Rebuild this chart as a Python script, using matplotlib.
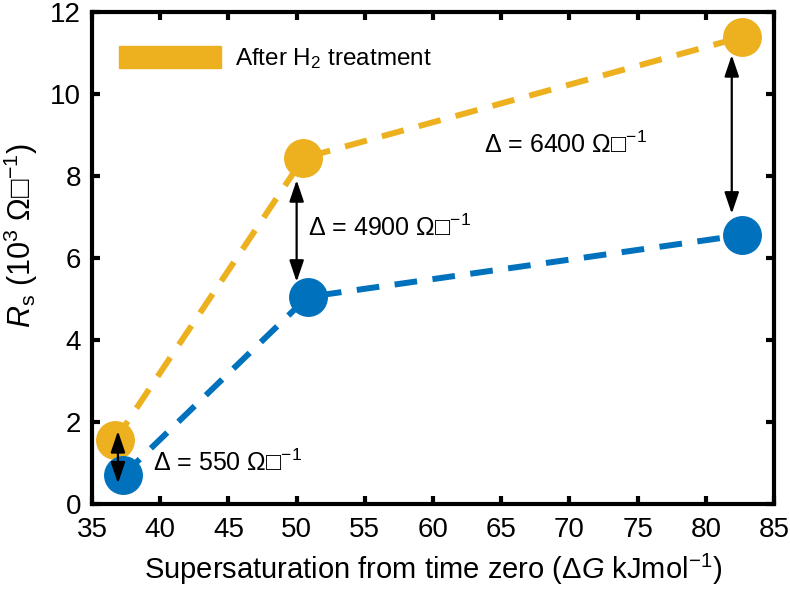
import matplotlib
matplotlib.use("Agg")
import matplotlib.pyplot as plt
from matplotlib.patches import Patch

plt.rcParams['font.family'] = ['Liberation Sans', 'DejaVu Sans']
plt.rcParams['mathtext.fontset'] = 'custom'
plt.rcParams['mathtext.rm'] = 'Liberation Sans'
plt.rcParams['mathtext.it'] = 'Liberation Sans:italic'

# Data
x_after = [36.7, 50.5, 82.65]
y_after = [1.56, 8.44, 11.39]
x_before = [37.3, 50.8, 82.65]
y_before = [0.71, 5.05, 6.56]
arrows = [(36.9, 1.78, 0.5), (50.0, 7.9, 5.42), (81.9, 10.95, 7.08)]
deltas = ["550", "4900", "6400"]
delta_pos = [(39.5, 1.0), (50.8, 6.73), (63.7, 8.76)]
xticks = [35, 40, 45, 50, 55, 60, 65, 70, 75, 80, 85]
yticks = [0, 2, 4, 6, 8, 10, 12]

yellow = '#EDB120'
blue = '#0072BD'

fig = plt.figure(figsize=(7.9, 5.89), dpi=100)
ax = fig.add_axes([0.1165, 0.1443, 0.8633, 0.8353])

ax.plot(x_after, y_after, color=yellow, lw=4.3, linestyle=(0, (3.8, 2.6)),
        marker='o', markersize=27, zorder=3)
ax.plot(x_before, y_before, color=blue, lw=4.3, linestyle=(0, (3.8, 2.6)),
        marker='o', markersize=27, zorder=3)

for (xa, y1, y2) in arrows:
    ax.annotate('', xy=(xa, y2), xytext=(xa, y1),
                arrowprops=dict(arrowstyle='<|-|>,head_length=0.65,head_width=0.22',
                                color='black', lw=1.6,
                                mutation_scale=20, shrinkA=0, shrinkB=0),
                zorder=4)

for d, (tx, ty) in zip(deltas, delta_pos):
    ax.text(tx, ty, "Δ = " + d + " Ω□$^{-1}$", fontsize=18, ha='left', va='center')

ax.set_xlim(35, 85)
ax.set_ylim(0, 12)
ax.set_xticks(xticks)
ax.set_yticks(yticks)
ax.tick_params(direction='in', length=6, width=3, labelsize=20,
               top=True, right=True)
ax.tick_params(axis='x', pad=9)
ax.tick_params(axis='y', pad=8)
for s in ax.spines.values():
    s.set_linewidth(3)

ax.set_xlabel("Supersaturation from time zero (Δ$G$ kJmol$^{-1}$)", fontsize=21, labelpad=7)
ax.set_ylabel("$R$$_\\mathrm{s}$ (10$^3$ Ω□$^{-1}$)", fontsize=22)
ax.yaxis.set_label_coords(-0.077, 0.545)

leg = ax.legend(handles=[Patch(color=yellow, label="After H$_2$ treatment")],
                loc='upper left', frameon=False, fontsize=17.5,
                handlelength=4.2, handleheight=1.0, handletextpad=0.6,
                borderaxespad=0.0, bbox_to_anchor=(0.025, 0.95))

fig.savefig("out.png", dpi=100)
